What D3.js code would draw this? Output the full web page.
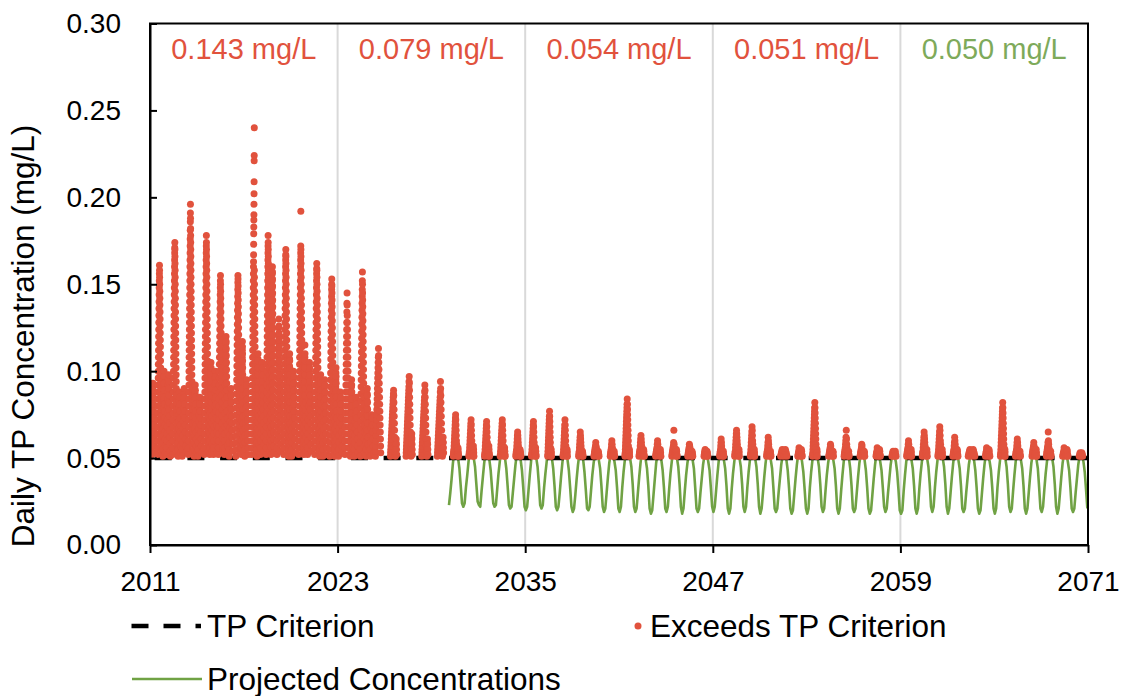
<!DOCTYPE html>
<html>
<head>
<meta charset="utf-8">
<script src="https://cdn.jsdelivr.net/npm/d3@7"></script>
<style>
  body { margin: 0; background: #fff; }
  svg text { font-family: "Liberation Sans", Arial, sans-serif; fill: #000; }
</style>
</head>
<body>
<svg id="chart" width="1124" height="696"></svg>
<script>
// ---- axis ticks and reference values ----
const xTicks = [2011, 2023, 2035, 2047, 2059, 2071];
const yTicks = [0, 0.05, 0.10, 0.15, 0.20, 0.25, 0.30];
const criterion = 0.05;

// ---- period averages shown across the top (12-year blocks) ----
const periodCenters = [2017, 2029, 2041, 2053, 2065];
const periodLabels = ["0.143 mg/L", "0.079 mg/L", "0.054 mg/L", "0.051 mg/L", "0.050 mg/L"];
const periodMeets = [false, false, false, false, true];

// ---- projected concentrations: monthly values (mg/L x 1000), Jan..Dec, from 2030 ----
const projFirstYear = 2030;
const projMonthly = [
  "- 23 30 38 47 53 56 54 50 44 34 24",
  "22 24 33 40 48 54 56 53 50 45 35 25",
  "23 22 31 39 47 53 55 53 49 43 33 24",
  "22 23 32 41 48 54 57 54 50 44 34 23",
  "21 22 30 38 46 52 54 52 49 43 33 22",
  "20 22 31 40 48 54 56 53 50 45 35 23",
  "21 23 33 41 48 55 58 54 50 44 34 22",
  "20 22 30 39 47 54 56 53 49 43 33 22",
  "19 21 29 38 46 52 54 52 49 42 32 21",
  "20 22 31 40 47 52 53 52 49 44 34 22",
  "19 21 30 39 47 52 54 52 48 43 33 21",
  "19 22 33 42 49 56 62 55 50 45 35 22",
  "19 21 30 39 47 53 55 53 49 44 34 21",
  "18 20 29 38 47 52 54 52 49 43 33 21",
  "19 22 32 41 48 53 55 53 50 45 35 22",
  "18 21 31 40 47 52 54 52 49 44 33 21",
  "19 21 30 38 46 51 53 52 48 43 33 22",
  "19 22 31 40 48 53 55 53 49 44 34 21",
  "18 21 32 41 48 54 56 53 50 45 35 22",
  "19 22 33 42 49 54 57 54 50 45 35 22",
  "18 21 30 39 47 53 55 53 49 44 33 21",
  "19 21 30 38 46 51 53 52 49 43 33 21",
  "18 20 29 38 46 52 54 52 48 42 32 21",
  "18 21 33 42 49 56 63 56 50 45 35 22",
  "19 21 31 40 47 52 54 52 49 44 34 21",
  "18 21 31 40 48 53 56 53 50 44 34 21",
  "19 21 30 39 47 52 54 52 49 43 33 21",
  "18 20 29 38 46 52 54 52 48 43 33 22",
  "19 21 30 38 46 51 53 51 48 42 32 20",
  "18 20 31 40 48 53 55 53 49 44 34 21",
  "18 21 32 41 48 54 56 53 50 45 35 22",
  "19 22 33 42 49 54 57 54 50 45 35 22",
  "18 21 30 39 47 53 55 53 49 44 34 21",
  "19 21 30 38 46 51 53 52 49 43 33 21",
  "18 20 29 38 46 52 54 52 48 43 33 21",
  "18 21 33 42 49 56 63 56 50 45 35 22",
  "19 21 31 40 48 53 55 53 49 44 34 21",
  "18 21 30 39 47 52 54 52 49 44 33 21",
  "19 22 32 41 48 53 56 53 50 45 35 22",
  "18 21 30 39 47 52 54 52 48 43 33 21",
  "19 21 30 38 46 51 53 51 48 42 32 21"
];

// ---- days exceeding the criterion, observed period: [start, end, daily values (mg/L x 1000)] ----
const histExceed = [
  [2011.06, 2011.30, "51 55 59 63 67 71 75 79 83 87 91 93 89 85 81 77 73 69 65 61 57 53"],
  [2011.47, 2011.74, "52 56 60 64 68 72 76 80 84 88 92 96 100 104 108 112 116 120 124 128 132 136 140 144 148 152 156 161 158 154 150 146 142 138 134 130 126 122 118 114 110 106 102 98 94 90 86 82 78 74 70 66 62 58 54"],
  [2011.82, 2011.98, "51 55 59 63 67 71 75 79 83 87 91 95 100 97 93 89 85 81 77 73 69 65 61 57 53"],
  [2012.06, 2012.30, "52 56 60 64 68 72 76 80 84 88 92 95 98 94 90 86 82 78 74 70 66 62 58 54 51"],
  [2012.45, 2012.72, "52 56 60 64 68 72 76 80 84 88 92 96 100 104 108 112 116 120 124 128 132 136 140 144 148 152 156 160 164 168 171 174 170 166 162 158 154 150 146 142 138 134 130 126 122 118 114 110 106 102 98 94 90 86 82 78 74 70 66 62 58 54"],
  [2012.80, 2012.97, "51 55 59 63 67 71 75 79 83 88 85 81 77 73 69 65 61 57 53"],
  [2013.06, 2013.30, "51 55 59 63 67 71 75 79 83 87 90 85 81 77 73 69 65 61 57 53"],
  [2013.45, 2013.72, "52 56 60 64 68 72 76 80 84 88 92 96 100 104 108 112 116 120 124 128 132 136 140 144 148 152 156 160 164 168 172 176 181 186 191 196 188 182 178 174 170 166 162 158 154 150 146 142 138 134 130 126 122 118 114 110 106 102 98 94 90 86 82 78 74 70 66 62 58 54"],
  [2013.82, 2013.97, "51 55 59 63 67 71 75 79 83 87 92 89 85 81 77 73 69 65 61 57 53"],
  [2014.06, 2014.30, "51 55 59 63 67 71 75 79 82 85 81 77 73 69 65 61 57 53"],
  [2014.47, 2014.74, "52 56 60 64 68 72 76 80 84 88 92 96 100 104 108 112 116 120 124 128 132 136 140 144 148 152 156 160 164 168 172 178 174 170 166 162 158 154 150 146 142 138 134 130 126 122 118 114 110 106 102 98 94 90 86 82 78 74 70 66 62 58 54"],
  [2014.82, 2014.98, "52 56 60 64 68 72 76 80 84 88 92 96 100 105 102 98 94 90 86 82 78 74 70 66 62 58 54"],
  [2015.06, 2015.30, "52 56 60 64 68 72 76 80 84 88 92 96 100 97 93 89 85 81 77 73 69 65 61 57 53"],
  [2015.37, 2015.64, "52 56 60 64 68 72 76 80 84 88 92 96 100 104 108 112 116 120 124 128 132 136 140 144 148 152 155 150 146 142 138 134 130 126 122 118 114 110 106 102 98 94 90 86 82 78 74 70 66 62 58 54"],
  [2015.76, 2015.97, "52 56 60 64 68 72 76 80 84 88 92 96 100 104 108 112 116 120 117 113 109 105 101 97 93 89 85 81 77 73 69 65 61 57 53"],
  [2016.06, 2016.30, "51 55 59 63 67 71 75 79 83 87 90 86 82 78 74 70 66 62 58 54"],
  [2016.49, 2016.76, "51 55 59 63 67 71 75 79 83 87 91 95 99 103 107 111 115 119 123 127 131 135 139 143 147 151 155 153 149 145 141 137 133 129 125 121 117 113 109 105 101 97 93 89 85 81 77 73 69 65 61 57 53"],
  [2016.84, 2016.98, "52 56 60 64 68 72 76 80 84 88 92 96 100 104 108 112 117 114 110 106 102 98 94 90 86 82 78 74 70 66 62 58 54"],
  [2017.06, 2017.30, "51 55 59 63 67 71 75 79 83 87 91 95 92 88 84 80 76 72 68 64 60 56 52"],
  [2017.51, 2017.78, "52 56 60 64 68 72 76 80 84 88 92 96 100 104 108 112 116 120 124 128 132 136 140 144 148 152 156 160 163 167 173 179 183 187 190 196 202 209 221 224 240 158 154 150 146 142 138 134 130 126 122 118 114 110 106 102 98 94 90 86 82 78 74 70 66 62 58 54"],
  [2017.84, 2017.98, "51 55 59 63 67 71 75 79 83 87 91 95 99 103 107 110 106 102 98 94 90 86 82 78 74 70 66 62 58 54"],
  [2018.06, 2018.30, "52 56 60 64 68 72 76 80 84 88 92 96 100 105 102 98 94 90 86 82 78 74 70 66 62 58 54"],
  [2018.43, 2018.68, "52 56 60 64 68 72 76 80 84 88 92 96 100 104 108 112 116 120 124 128 132 136 140 144 148 152 156 160 164 168 172 178 174 170 166 162 158 154 150 146 142 138 134 130 126 122 118 114 110 106 102 98 94 90 86 82 78 74 70 66 62 58 54"],
  [2018.74, 2018.92, "52 56 60 64 68 72 76 80 84 88 92 96 100 104 108 112 116 120 124 128 132 136 140 144 148 152 156 160 157 153 149 145 141 137 133 129 125 121 117 113 109 105 101 97 93 89 85 81 77 73 69 65 61 57 53"],
  [2019.12, 2019.36, "52 56 60 64 68 72 76 80 84 88 92 96 100 104 108 112 116 120 125 130 126 122 118 114 110 106 102 98 94 90 86 82 78 74 70 66 62 58 54"],
  [2019.55, 2019.82, "52 56 60 64 68 72 76 80 84 88 92 96 100 104 108 112 116 120 124 128 132 136 140 144 148 152 156 160 164 167 170 166 162 158 154 150 146 142 138 134 130 126 122 118 114 110 106 102 98 94 90 86 82 78 74 70 66 62 58 54"],
  [2019.87, 2019.99, "51 55 59 63 67 71 75 79 83 87 91 95 99 103 107 110 106 102 98 94 90 86 82 78 74 70 66 62 58 54"],
  [2020.06, 2020.30, "51 55 59 63 67 71 75 79 83 87 91 95 100 97 93 89 85 81 77 73 69 65 61 57 53"],
  [2020.51, 2020.78, "52 56 60 64 68 72 76 80 84 88 92 96 100 104 108 112 116 120 124 128 132 136 140 144 148 152 156 160 164 168 172 192 170 166 162 158 154 150 146 142 138 134 130 126 122 118 114 110 106 102 98 94 90 86 82 78 74 70 66 62 58 54"],
  [2020.84, 2020.98, "52 56 60 64 68 72 76 80 84 88 92 96 100 104 108 115 110 106 102 98 94 90 86 82 78 74 70 66 62 58 54"],
  [2021.08, 2021.32, "52 56 60 64 68 72 76 80 84 88 92 96 100 105 102 98 94 90 86 82 78 74 70 66 62 58 54"],
  [2021.53, 2021.80, "52 56 60 64 68 72 76 80 84 88 92 96 100 104 108 112 116 120 124 128 132 136 140 144 148 152 156 159 162 158 154 150 146 142 138 134 130 126 122 118 114 110 106 102 98 94 90 86 82 78 74 70 66 62 58 54"],
  [2021.85, 2021.98, "51 55 59 63 67 71 75 79 83 87 91 95 98 93 89 85 81 77 73 69 65 61 57 53"],
  [2022.06, 2022.30, "51 55 59 63 67 71 75 79 83 87 91 95 92 88 84 80 76 72 68 64 60 56 52"],
  [2022.49, 2022.76, "51 55 59 63 67 71 75 79 83 87 91 95 99 103 107 111 115 119 123 127 131 135 139 143 147 150 153 149 145 141 137 133 129 125 121 117 113 109 105 101 97 93 89 85 81 77 73 69 65 61 57 53"],
  [2022.82, 2022.97, "51 55 59 63 67 71 75 79 83 87 91 95 99 102 97 93 89 85 81 77 73 69 65 61 57 53"],
  [2023.06, 2023.30, "51 55 59 63 67 71 75 79 83 88 85 81 77 73 69 65 61 57 53"],
  [2023.47, 2023.74, "52 56 60 64 68 72 76 80 84 88 92 96 100 104 108 112 116 120 124 128 134 139 145 138 132 128 124 120 116 112 108 104 100 96 92 88 84 80 76 72 68 64 60 56 52"],
  [2023.82, 2023.97, "51 55 59 63 67 71 75 79 83 87 91 95 92 88 84 80 76 72 68 64 60 56 52"],
  [2024.06, 2024.30, "51 55 59 63 67 71 75 79 82 85 81 77 73 69 65 61 57 53"],
  [2024.45, 2024.72, "51 55 59 63 67 71 75 79 83 87 91 95 99 103 107 111 115 119 123 127 131 135 139 143 147 152 157 150 145 141 137 133 129 125 121 117 113 109 105 101 97 93 89 85 81 77 73 69 65 61 57 53"],
  [2024.82, 2024.97, "51 55 59 63 67 71 75 79 83 87 90 86 82 78 74 70 66 62 58 54"],
  [2025.08, 2025.30, "51 55 59 63 67 71 75 73 69 65 61 57 53"],
  [2025.42, 2025.76, "51 54 57 60 63 66 69 72 75 78 81 84 87 90 93 96 99 102 105 108 113 109 105 101 97 93 89 85 81 77 73 69 65 61 57 53"],
  [2026.38, 2026.78, "51 53 55 57 59 61 63 65 67 69 71 73 75 77 79 81 83 85 87 89 86 82 78 74 70 66 62 58 54 52 51 53 55 57 59 61 58 55 52"],
  [2027.38, 2027.78, "51 53 55 57 59 61 63 65 67 69 71 73 75 77 79 81 83 85 87 89 91 94 97 93 89 85 81 77 73 69 65 61 57 54 52 51 53 56 59 62 64 61 58 55 52"],
  [2028.38, 2028.78, "51 53 55 57 59 61 63 65 67 69 71 73 75 77 79 81 83 85 88 92 89 85 81 77 73 69 65 61 57 54 52 51 53 56 59 61 58 55 52"],
  [2029.38, 2029.78, "51 53 55 57 59 61 63 65 67 69 71 73 75 77 79 81 83 85 88 94 90 86 82 78 74 70 66 62 58 55 52 51 53 56 59 62 59 56 53"]
];

// ---- days exceeding the criterion, projected period ----
const projExceed = [
  [2030.40, 2030.74, "51 52 53 54 55 57 59 61 63 65 67 69 71 73 75 72 69 66 63 60 58 56 54 53 52 51 52 54 56 55 53 52 51"],
  [2031.40, 2031.72, "51 52 53 54 56 58 60 62 64 66 68 70 72 69 66 63 60 57 55 53 52 51 52 53 55 57 55 53 51"],
  [2032.40, 2032.72, "51 52 53 55 57 59 61 63 65 67 69 71 68 65 62 59 56 54 52 51 52 54 56 57 55 53 52 51"],
  [2033.40, 2033.72, "51 52 54 56 58 60 62 64 66 68 70 72 69 66 63 60 57 55 53 52 51 53 55 56 54 52 51"],
  [2034.40, 2034.72, "51 52 53 54 55 57 59 61 63 65 63 61 59 57 55 54 53 52 51 52 53 55 54 53 52 51"],
  [2035.40, 2035.70, "51 52 53 55 57 59 61 63 65 67 69 71 68 65 62 59 57 55 53 52 51 52 54 56 54 52 51"],
  [2036.44, 2036.68, "51 52 54 56 58 60 62 64 66 68 70 72 74 77 74 71 68 65 62 59 56 54 52 51 53 55 53 51"],
  [2037.42, 2037.70, "51 52 53 55 57 59 61 63 65 67 69 72 69 66 63 60 57 55 53 52 51 52 54 55 53 51"],
  [2038.42, 2038.70, "51 52 53 54 56 58 60 62 65 63 61 59 57 55 53 52 51 52 53 54 53 52 51"],
  [2039.40, 2039.72, "51 52 53 54 55 56 57 59 57 56 55 54 53 52 51 52 53 54 53 52 51"],
  [2040.44, 2040.72, "51 52 53 54 55 56 58 60 58 56 55 54 53 52 51 52 53 54 52 51"],
  [2041.38, 2041.68, "51 52 53 55 57 59 61 63 65 67 69 71 73 75 77 79 81 84 81 78 75 72 69 66 63 60 57 55 53 52 51 52 54 55 53 51"],
  [2042.28, 2042.62, "51 52 53 54 55 57 59 61 63 61 59 57 55 54 53 52 51 52 53 55 54 52 51"],
  [2043.34, 2043.68, "51 52 53 54 55 56 58 60 58 56 55 54 53 52 51 52 54 55 53 51"],
  [2044.38, 2044.72, "51 52 53 54 55 56 57 59 66 58 56 55 54 53 52 51 52 53 55 54 52 51"],
  [2045.40, 2045.72, "51 52 53 54 55 56 58 57 56 55 54 53 52 51 52 53 54 53 52 51"],
  [2046.44, 2046.68, "51 52 53 54 55 54 53 52 51 52 53 54 53 52 51"],
  [2047.44, 2047.70, "51 52 53 54 55 57 59 61 59 57 55 54 53 52 51 52 53 54 52 51"],
  [2048.40, 2048.70, "51 52 53 54 56 58 60 62 64 66 64 62 60 58 56 54 53 52 51 52 54 55 53 51"],
  [2049.40, 2049.68, "51 52 53 55 57 59 61 63 65 68 66 63 60 58 56 54 53 52 51 52 53 55 53 51"],
  [2050.44, 2050.72, "51 52 53 54 55 57 59 62 60 58 56 54 53 52 51 52 53 54 52 51"],
  [2051.34, 2051.74, "51 52 53 54 55 54 53 52 51 52 53 54 55 54 53 52 51"],
  [2052.44, 2052.72, "51 52 53 54 56 55 54 53 52 51 52 53 55 54 52 51"],
  [2053.38, 2053.68, "51 52 53 55 57 59 61 63 65 67 69 71 73 75 77 79 82 79 76 73 70 67 64 61 58 56 54 52 51 52 54 55 53 51"],
  [2054.42, 2054.72, "51 52 53 54 55 56 58 57 55 54 53 52 51 52 53 54 53 51"],
  [2055.40, 2055.72, "51 52 53 54 55 56 58 60 62 66 61 58 56 54 53 52 51 52 53 54 52 51"],
  [2056.42, 2056.72, "51 52 53 54 55 56 58 57 55 54 53 52 51 52 53 54 53 51"],
  [2057.44, 2057.72, "51 52 53 54 56 55 54 53 52 51 52 53 55 54 52 51"],
  [2058.46, 2058.72, "51 52 53 54 53 52 51 52 53 54 52 51"],
  [2059.40, 2059.72, "51 52 53 54 55 56 58 60 58 56 55 54 53 52 51 52 54 55 53 51"],
  [2060.40, 2060.72, "51 52 53 54 56 58 60 62 65 63 61 59 57 55 54 53 52 51 52 54 55 53 51"],
  [2061.40, 2061.70, "51 52 53 55 57 59 61 63 65 68 66 63 60 58 56 54 53 52 51 52 53 55 53 51"],
  [2062.36, 2062.68, "51 52 53 54 55 57 59 62 60 58 56 54 53 52 51 52 53 55 54 52 51"],
  [2063.34, 2063.76, "51 52 53 54 55 54 53 52 51 52 53 54 55 54 53 52 51"],
  [2064.44, 2064.72, "51 52 53 54 56 55 54 53 52 51 52 53 55 54 52 51"],
  [2065.40, 2065.70, "51 52 53 55 57 59 61 63 65 67 69 71 73 75 77 79 82 79 76 73 70 67 64 61 58 56 54 52 51 52 54 55 53 51"],
  [2066.36, 2066.68, "51 52 53 54 55 57 59 61 59 57 55 54 53 52 51 52 53 54 52 51"],
  [2067.42, 2067.72, "51 52 53 54 55 56 57 59 57 56 55 54 53 52 51 52 53 55 53 51"],
  [2068.34, 2068.64, "51 52 53 54 55 56 57 59 65 60 58 56 55 54 53 52 51 52 53 54 52 51"],
  [2069.38, 2069.72, "51 52 53 54 56 55 54 53 52 51 52 53 55 54 52 51"],
  [2070.44, 2070.66, "51 52 53 52 51 52 53 52 51"]
];

// ---- colours ----
const RED = "#E1523D";
const GREEN = "#70A244";
const GREEN_TEXT = "#7EAA5A";
const DOT_R = 3.5;

// ---- layout ----
const svg = d3.select("#chart");
const plot = { left: 150, right: 1088, top: 23.5, bottom: 545 };

const x = d3.scaleLinear().domain([2011, 2071]).range([plot.left, plot.right]);
const y = d3.scaleLinear().domain([0, 0.30]).range([plot.bottom, plot.top]);

svg.append("defs").append("clipPath").attr("id", "plotClip")
  .append("rect")
  .attr("x", plot.left).attr("y", plot.top)
  .attr("width", plot.right - plot.left).attr("height", plot.bottom - plot.top);

// vertical gridlines between the 12-year blocks
svg.append("g").selectAll("line")
  .data(xTicks.slice(1, -1))
  .join("line")
  .attr("x1", d => x(d)).attr("x2", d => x(d))
  .attr("y1", plot.top).attr("y2", plot.bottom)
  .attr("stroke", "#D9D9D9").attr("stroke-width", 2);

// projected concentrations line
const projPoints = [];
projMonthly.forEach((row, i) => {
  row.split(" ").forEach((v, m) => {
    if (v !== "-") projPoints.push({ t: projFirstYear + i + (m + 0.5) / 12, v: +v / 1000 });
  });
});

const body = svg.append("g").attr("clip-path", "url(#plotClip)");

body.append("path")
  .datum(projPoints)
  .attr("fill", "none")
  .attr("stroke", GREEN)
  .attr("stroke-width", 2.6)
  .attr("stroke-linejoin", "round")
  .attr("d", d3.line().x(d => x(d.t)).y(d => y(d.v)));

// TP criterion line
body.append("line")
  .attr("x1", x(2011)).attr("x2", x(2071))
  .attr("y1", y(criterion)).attr("y2", y(criterion))
  .attr("stroke", "#000").attr("stroke-width", 4.5)
  .attr("stroke-dasharray", "17,15.7").attr("stroke-dashoffset", 28);

// exceedance days
function expand(clusters) {
  const out = [];
  clusters.forEach(([t0, t1, vals]) => {
    const vs = vals.split(" ").map(v => +v / 1000);
    const n = vs.length;
    vs.forEach((v, i) => out.push({ t: n > 1 ? t0 + (t1 - t0) * i / (n - 1) : t0, v }));
  });
  return out;
}
const exceedPoints = expand(histExceed).concat(expand(projExceed));

body.append("g").selectAll("circle")
  .data(exceedPoints)
  .join("circle")
  .attr("cx", d => x(d.t))
  .attr("cy", d => y(d.v))
  .attr("r", DOT_R)
  .attr("fill", RED);

// plot frame
svg.append("rect")
  .attr("x", plot.left).attr("y", plot.top)
  .attr("width", plot.right - plot.left).attr("height", plot.bottom - plot.top)
  .attr("fill", "none").attr("stroke", "#000").attr("stroke-width", 2);

// y axis (ticks inside)
const yAxis = svg.append("g")
  .attr("transform", `translate(${plot.left},0)`)
  .call(d3.axisLeft(y).tickValues(yTicks).tickSizeInner(-7).tickSizeOuter(0)
    .tickPadding(29).tickFormat(d3.format(".2f")));
yAxis.select(".domain").attr("stroke", "#000").attr("stroke-width", 2);
yAxis.selectAll(".tick line").attr("stroke", "#000").attr("stroke-width", 2);
yAxis.selectAll(".tick text").attr("font-size", 28).style("font-family", "'Liberation Sans', Arial, sans-serif");

// x axis (ticks outside)
const xAxis = svg.append("g")
  .attr("transform", `translate(0,${plot.bottom})`)
  .call(d3.axisBottom(x).tickValues(xTicks).tickSizeInner(8).tickSizeOuter(0)
    .tickPadding(18).tickFormat(d3.format("d")));
xAxis.select(".domain").attr("stroke", "#000").attr("stroke-width", 2);
xAxis.selectAll(".tick line").attr("stroke", "#000").attr("stroke-width", 2);
xAxis.selectAll(".tick text").attr("font-size", 28).style("font-family", "'Liberation Sans', Arial, sans-serif");

// y axis title
svg.append("text")
  .attr("transform", "translate(33.5,336) rotate(-90)")
  .attr("text-anchor", "middle")
  .attr("font-size", 31.5)
  .text("Daily TP Concentration (mg/L)");

// period average labels
svg.append("g").selectAll("text")
  .data(periodLabels)
  .join("text")
  .attr("x", (d, i) => x(periodCenters[i]))
  .attr("y", 59)
  .attr("text-anchor", "middle")
  .attr("font-size", 29)
  .style("fill", (d, i) => periodMeets[i] ? GREEN_TEXT : RED)
  .text(d => d);

// legend
const legend = svg.append("g");
legend.append("line")
  .attr("x1", 131.5).attr("x2", 201).attr("y1", 626).attr("y2", 626)
  .attr("stroke", "#000").attr("stroke-width", 4.5).attr("stroke-dasharray", "17,15");
legend.append("text").attr("x", 207).attr("y", 637).attr("font-size", 31.5).text("TP Criterion");
legend.append("circle").attr("cx", 638).attr("cy", 626).attr("r", DOT_R).attr("fill", RED);
legend.append("text").attr("x", 650).attr("y", 637).attr("font-size", 31.5).text("Exceeds TP Criterion");
legend.append("line")
  .attr("x1", 132).attr("x2", 202).attr("y1", 679).attr("y2", 679)
  .attr("stroke", GREEN).attr("stroke-width", 2.6);
legend.append("text").attr("x", 207).attr("y", 690).attr("font-size", 31.5).text("Projected Concentrations");
</script>
</body>
</html>
